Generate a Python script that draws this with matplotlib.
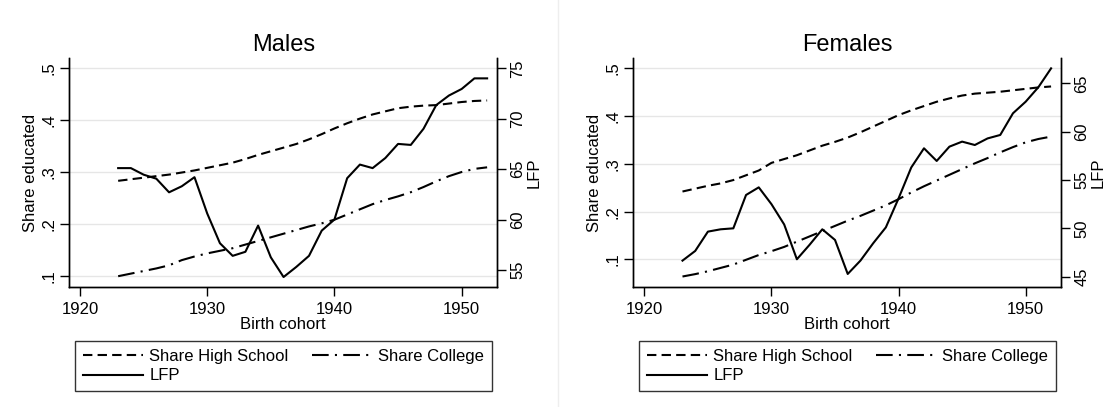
import matplotlib
matplotlib.use("Agg")
import matplotlib.pyplot as plt
from matplotlib.lines import Line2D

plt.rcParams['font.family'] = ['Liberation Sans', 'DejaVu Sans']

years = list(range(1923, 1953))

m_hs = [.283, .286, .289, .292, .295, .299, .303, .308, .313, .318, .325, .333, .340, .347, .354,
        .363, .373, .384, .394, .403, .411, .417, .423, .426, .428, .429, .432, .435, .437, .438]
m_col = [.099, .104, .109, .114, .120, .130, .137, .143, .148, .153, .160, .167, .174, .181, .188,
         .195, .201, .208, .218, .228, .238, .246, .253, .261, .271, .282, .292, .300, .306, .309]
m_lfp = [65.1, 65.1, 64.45, 64.05, 62.7, 63.3, 64.2, 60.6, 57.65, 56.4, 56.8, 59.4, 56.25, 54.3, 55.3,
         56.4, 58.9, 60.0, 64.1, 65.45, 65.1, 66.1, 67.5, 67.4, 69.0, 71.35, 72.3, 72.95, 74.0, 74.0]

f_hs = [.242, .248, .254, .259, .266, .276, .286, .302, .310, .318, .328, .338, .346, .355, .366,
        .378, .390, .402, .412, .421, .430, .437, .443, .447, .449, .451, .454, .457, .460, .462]
f_col = [.064, .069, .075, .082, .089, .099, .109, .117, .126, .137, .148, .159, .170, .181, .191,
         .202, .213, .226, .240, .253, .265, .277, .289, .301, .312, .324, .335, .345, .352, .357]
f_lfp = [46.66, 47.66, 49.66, 49.9, 50.0, 53.45, 54.24, 52.5, 50.4, 46.8, 48.3, 49.9, 48.8, 45.28, 46.66,
         48.45, 50.1, 53.1, 56.3, 58.28, 56.97, 58.45, 58.97, 58.62, 59.3, 59.66, 61.9, 63.1, 64.6, 66.55]

x_ticks = [1920, 1930, 1940, 1950]
left_ticks = [0.1, 0.2, 0.3, 0.4, 0.5]
left_labels = ['.1', '.2', '.3', '.4', '.5']
m_right_ticks = [55, 60, 65, 70, 75]
f_right_ticks = [45, 50, 55, 60, 65]

W, H = 1110, 407
fig = plt.figure(figsize=(W / 100, H / 100), dpi=100)

hs_style = dict(color='black', lw=1.5, linestyle=(0, (4.5, 2.5)))
col_style = dict(color='black', lw=1.5, linestyle=(0, (8, 3, 1, 3)))
lfp_style = dict(color='black', lw=1.5, linestyle='-')


def panel(left_px, right_px, title, hs, col, lfp, xlim, ylim, rlim, rticks, leg_px):
    top_px, bot_px = 58.3, 287.3
    ax = fig.add_axes([left_px / W, 1 - bot_px / H, (right_px - left_px) / W, (bot_px - top_px) / H])
    ax2 = ax.twinx()
    ax.plot(years, hs, **hs_style)
    ax.plot(years, col, **col_style)
    ax2.plot(years, lfp, **lfp_style)
    ax.set_xlim(*xlim)
    ax.set_ylim(*ylim)
    ax2.set_ylim(*rlim)
    ax.set_xticks(x_ticks)
    ax.set_yticks(left_ticks)
    ax.set_yticklabels(left_labels, rotation=90, va='center')
    ax2.set_yticks(rticks)
    ax2.set_yticklabels([str(t) for t in rticks], rotation=90, va='center')
    ax.grid(axis='y', color='#e6e6e6', lw=1.0)
    ax.set_axisbelow(True)
    for a in (ax, ax2):
        a.spines['top'].set_visible(False)
        for s in ('left', 'right', 'bottom'):
            a.spines[s].set_linewidth(1.0)
        a.tick_params(direction='out', length=6.5, width=1, labelsize=12, pad=3)
    ax.tick_params(axis='x', pad=4)
    ax.set_title(title, fontsize=17, pad=5)
    ax.set_ylabel('Share educated', fontsize=12, labelpad=2)
    ax2.set_ylabel('LFP', fontsize=12, labelpad=1)
    ax.set_xlabel('Birth cohort', fontsize=12, labelpad=0)
    handles = [Line2D([], [], **hs_style), Line2D([], [], **lfp_style), Line2D([], [], **col_style)]
    labels = ['Share High School', 'LFP', 'Share College']
    x0, x1, y0, y1 = leg_px
    leg = fig.legend(handles, labels, ncol=2, loc='upper left',
                     bbox_to_anchor=(x0 / W, 1 - y1 / H, (x1 - x0) / W, (y1 - y0) / H),
                     mode='expand', fontsize=12, frameon=True, fancybox=False,
                     handlelength=3.6, handletextpad=0.4, borderpad=0.45, labelspacing=0.3,
                     columnspacing=1.0, borderaxespad=0)
    leg.get_frame().set_edgecolor('black')
    leg.get_frame().set_linewidth(1.0)
    return ax


panel(69.3, 497.3, 'Males', m_hs, m_col, m_lfp, (1919.16, 1952.8), (0.0776, 0.5193), (53.28, 75.99),
      m_right_ticks, (75, 491.7, 341, 394))
panel(633.3, 1061, 'Females', f_hs, f_col, f_lfp, (1919.13, 1952.78), (0.0414, 0.521), (43.90, 67.59),
      f_right_ticks, (639.3, 1055.7, 341, 394))

fig.add_artist(Line2D([558 / W, 558 / W], [0, 1], color='#eeeeee', lw=1))

fig.savefig('out.png', dpi=100, facecolor='white')
